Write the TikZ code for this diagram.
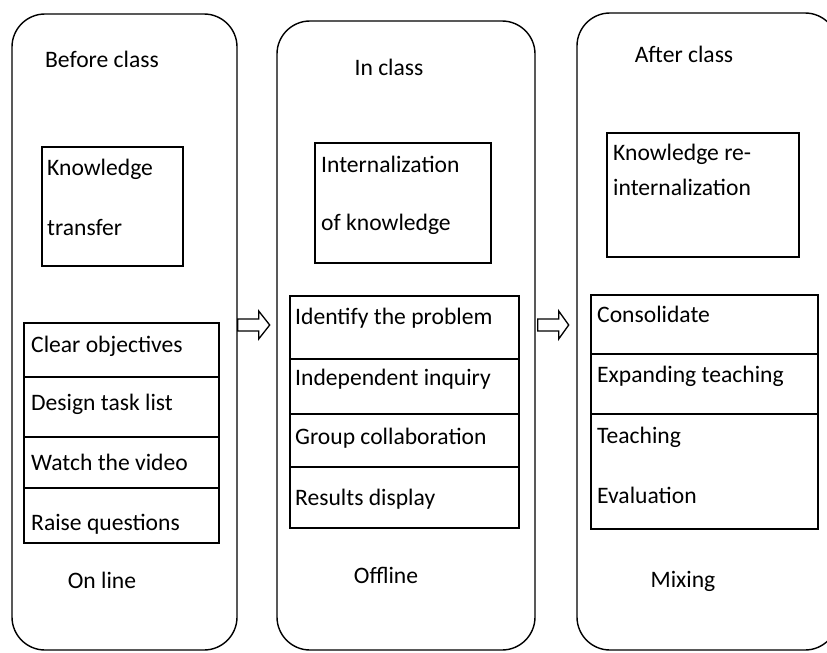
\documentclass[tikz,border=0pt]{standalone}
\usepackage{fontspec}
\setmainfont{Carlito}
\begin{document}
\begin{tikzpicture}[x=1pt,y=-1pt,
  panel/.style={draw,line width=1.4pt,rounded corners=33pt,minimum width=#1,inner sep=0pt},
  kbox/.style={draw,line width=1.4pt,inner sep=0pt},
  rowbox/.style={draw,line width=1.4pt,inner sep=0pt},
  txt/.style={anchor=base west,inner sep=0pt,font=\fontsize{23.6}{28}\selectfont},
  ctxt/.style={anchor=base,inner sep=0pt,font=\fontsize{23.6}{28}\selectfont},
  barrow/.style={draw,line width=1.3pt,fill=white,line join=miter}
]
\useasboundingbox (0,0) rectangle (827,653);
% panels
\node[panel=225pt,minimum height=636pt] (lp) at (124.5,332) {};
\node[panel=258pt,minimum height=629pt] (mp) at (406,335.5) {};
\node[panel=261pt,minimum height=637pt] (rp) at (707.5,331.5) {};
% titles
\node[ctxt] (t1) at (102,67) {Before class};
\node[ctxt] (t2) at (389,75) {In class};
\node[ctxt] (t3) at (684,62) {After class};
% knowledge boxes
\node[kbox,minimum width=141pt,minimum height=119pt] (k1) at (112.5,206.5) {};
\node[txt] (k1a) at (47,175) {Knowledge};
\node[txt] (k1b) at (47,235) {transfer};
\node[kbox,minimum width=176pt,minimum height=120pt] (k2) at (403,203) {};
\node[txt] (k2a) at (321,172) {Internalization};
\node[txt] (k2b) at (321,230) {of knowledge};
\node[kbox,minimum width=192pt,minimum height=124pt] (k3) at (703,195) {};
\node[txt] (k3a) at (613,160) {Knowledge re-};
\node[txt] (k3b) at (613,195) {internalization};
% left list
\node[rowbox,minimum width=195pt,minimum height=54pt] (l1) at (121.5,350) {};
\node[rowbox,minimum width=195pt,minimum height=60pt] (l2) at (121.5,407) {};
\node[rowbox,minimum width=195pt,minimum height=51pt] (l3) at (121.5,462.5) {};
\node[rowbox,minimum width=195pt,minimum height=55pt] (l4) at (121.5,515.5) {};
\node[txt] (l1t) at (31,352) {Clear objectives};
\node[txt] (l2t) at (31,410) {Design task list};
\node[txt] (l3t) at (31,470) {Watch the video};
\node[txt] (l4t) at (31,530) {Raise questions};
% middle list
\node[rowbox,minimum width=229pt,minimum height=63pt] (m1) at (404.5,327.5) {};
\node[rowbox,minimum width=229pt,minimum height=55pt] (m2) at (404.5,386.5) {};
\node[rowbox,minimum width=229pt,minimum height=53pt] (m3) at (404.5,440.5) {};
\node[rowbox,minimum width=229pt,minimum height=61pt] (m4) at (404.5,497.5) {};
\node[txt] (m1t) at (295,324) {Identify the problem};
\node[txt] (m2t) at (295,385) {Independent inquiry};
\node[txt] (m3t) at (295,444) {Group collaboration};
\node[txt] (m4t) at (295,505) {Results display};
% right list
\node[rowbox,minimum width=227pt,minimum height=59pt] (r1) at (704.5,324.5) {};
\node[rowbox,minimum width=227pt,minimum height=60pt] (r2) at (704.5,384) {};
\node[rowbox,minimum width=227pt,minimum height=115pt] (r3) at (704.5,471.5) {};
\node[txt] (r1t) at (597,322) {Consolidate};
\node[txt] (r2t) at (597,382) {Expanding teaching};
\node[txt] (r3t) at (597,443) {Teaching};
\node[txt] (r4t) at (597,503) {Evaluation};
% bottom labels
\node[ctxt] (b1) at (102,588) {On line};
\node[ctxt] (b2) at (386,583) {Offline};
\node[ctxt] (b3) at (683,587) {Mixing};
% block arrows
\coordinate (a1) at (lp.east |- 0,325);
\draw[barrow] (a1) ++(0,-6) -- ++(21,0) -- ++(0,-8) -- ++(11,14) -- ++(-11,14) -- ++(0,-8) -- ++(-21,0) -- cycle;
\coordinate (a2) at (mp.east |- 0,325);
\draw[barrow] (a2) ++(2,-6) -- ++(21,0) -- ++(0,-8) -- ++(10,14) -- ++(-10,14) -- ++(0,-8) -- ++(-21,0) -- cycle;
\end{tikzpicture}
\end{document}
